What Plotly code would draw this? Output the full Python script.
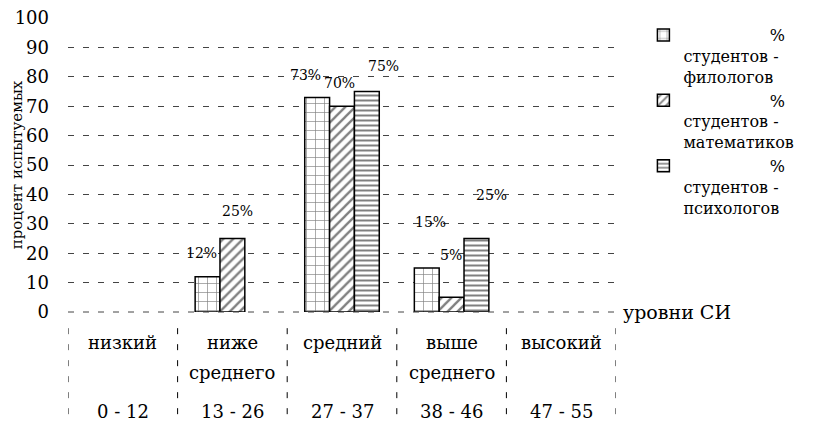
import plotly.graph_objects as go

# ---- data ----
categories = ["низкий", "ниже среднего", "средний", "выше среднего", "высокий"]
name_lines = [["низкий"], ["ниже", "среднего"], ["средний"], ["выше", "среднего"], ["высокий"]]
ranges = ["0 - 12", "13 - 26", "27 - 37", "38 - 46", "47 - 55"]

series_names = ["студентов - филологов", "студентов - математиков", "студентов - психологов"]
philologists = [0, 12, 73, 15, 0]
mathematicians = [0, 25, 70, 5, 0]
psychologists = [0, 0, 75, 25, 0]

y_ticks = [0, 10, 20, 30, 40, 50, 60, 70, 80, 90, 100]
y_title = "процент испытуемых"
x_title = "уровни СИ"

# ---- styling ----
FONT = "DejaVu Serif"
patterns = ["+", "/", "-"]
pattern_sizes = [9, 7, 5]
pattern_solid = [0.14, 0.33, 0.4]
series_values = [philologists, mathematicians, psychologists]

fig = go.Figure()
pad = "&nbsp;" * 17
for i, (nm, vals) in enumerate(zip(series_names, series_values)):
    parts = nm.split(" - ")
    label = f"{pad}%<br>{parts[0]} -<br>{parts[1]}"
    fig.add_trace(go.Bar(
        x=categories, y=[v if v > 0 else None for v in vals], name=label,
        marker=dict(color="white",
                    line=dict(color="black", width=1.5),
                    pattern=dict(shape=patterns[i], fgcolor="black", bgcolor="white",
                                 size=pattern_sizes[i], solidity=pattern_solid[i])),
    ))

# data labels (offsets in px per series/category)
bar_px = 25
label_offsets = {
    (0, 1): (-6, 24), (1, 1): (5, 28),
    (0, 2): (-12, 22), (1, 2): (-3, 23), (2, 2): (16, 26),
    (0, 3): (4, 46), (1, 3): (-1, 42), (2, 3): (15, 44),
}
for si, vals in enumerate(series_values):
    for ci, v in enumerate(vals):
        if v <= 0:
            continue
        dx, dy = label_offsets.get((si, ci), (0, 12))
        fig.add_annotation(x=categories[ci], y=v, xref="x", yref="y",
                           text=f"{v}%", showarrow=False,
                           xshift=(si - 1) * bar_px + dx, yshift=dy,
                           font=dict(family=FONT, size=14, color="black"))

# category table under the axis
row_y = [-0.105, -0.205]
for ci, lines in enumerate(name_lines):
    for li, t in enumerate(lines):
        fig.add_annotation(x=categories[ci], y=row_y[li], xref="x", yref="paper",
                           text=t, showarrow=False, yanchor="middle",
                           font=dict(family=FONT, size=18, color="black"))
    fig.add_annotation(x=categories[ci], y=-0.34, xref="x", yref="paper",
                       text=ranges[ci], showarrow=False, yanchor="middle",
                       font=dict(family=FONT, size=18, color="black"))

for b in range(len(categories) + 1):
    fig.add_shape(type="line", xref="x", yref="paper",
                  x0=b - 0.5, x1=b - 0.5, y0=-0.055, y1=-0.36,
                  line=dict(color="black", width=1, dash="6px,10px"))

# dashed baseline along the axis
fig.add_shape(type="line", xref="paper", yref="paper", x0=0, x1=1, y0=0, y1=0,
              line=dict(color="#444", width=1, dash="6px,9px"), layer="above")

fig.add_annotation(x=1.01, y=0, xref="paper", yref="y", text=x_title,
                   showarrow=False, xanchor="left", yanchor="middle",
                   font=dict(family=FONT, size=19, color="black"))

# page body adds an 8px margin, so the figure is 8px smaller than the window
fig.update_layout(
    width=810, height=421,
    margin=dict(l=60, r=202, t=10, b=117),
    paper_bgcolor="white", plot_bgcolor="rgba(0,0,0,0)",
    barmode="group", bargap=0.32, bargroupgap=0,
    font=dict(family=FONT, size=16, color="black"),
    showlegend=True,
    legend=dict(x=1.05, y=1.0, xanchor="left", yanchor="top",
                valign="top", font=dict(family=FONT, size=16, color="black"),
                bgcolor="rgba(0,0,0,0)", tracegroupgap=0),
    xaxis=dict(showticklabels=False, showgrid=False, showline=False,
               zeroline=False, ticks="", range=[-0.5, 4.5]),
    yaxis=dict(range=[0, 100], tickvals=y_ticks, showline=False, zeroline=False,
               showgrid=True, gridcolor="#444", gridwidth=1, griddash="6px,9px",
               ticks="", ticklabelstandoff=18, ticklabeloverflow="allow",
               tickfont=dict(family=FONT, size=18, color="black"),
               title=dict(text=y_title, standoff=5,
                          font=dict(family=FONT, size=15, color="black")),
               automargin=False),
)

fig.write_html("out.html")
